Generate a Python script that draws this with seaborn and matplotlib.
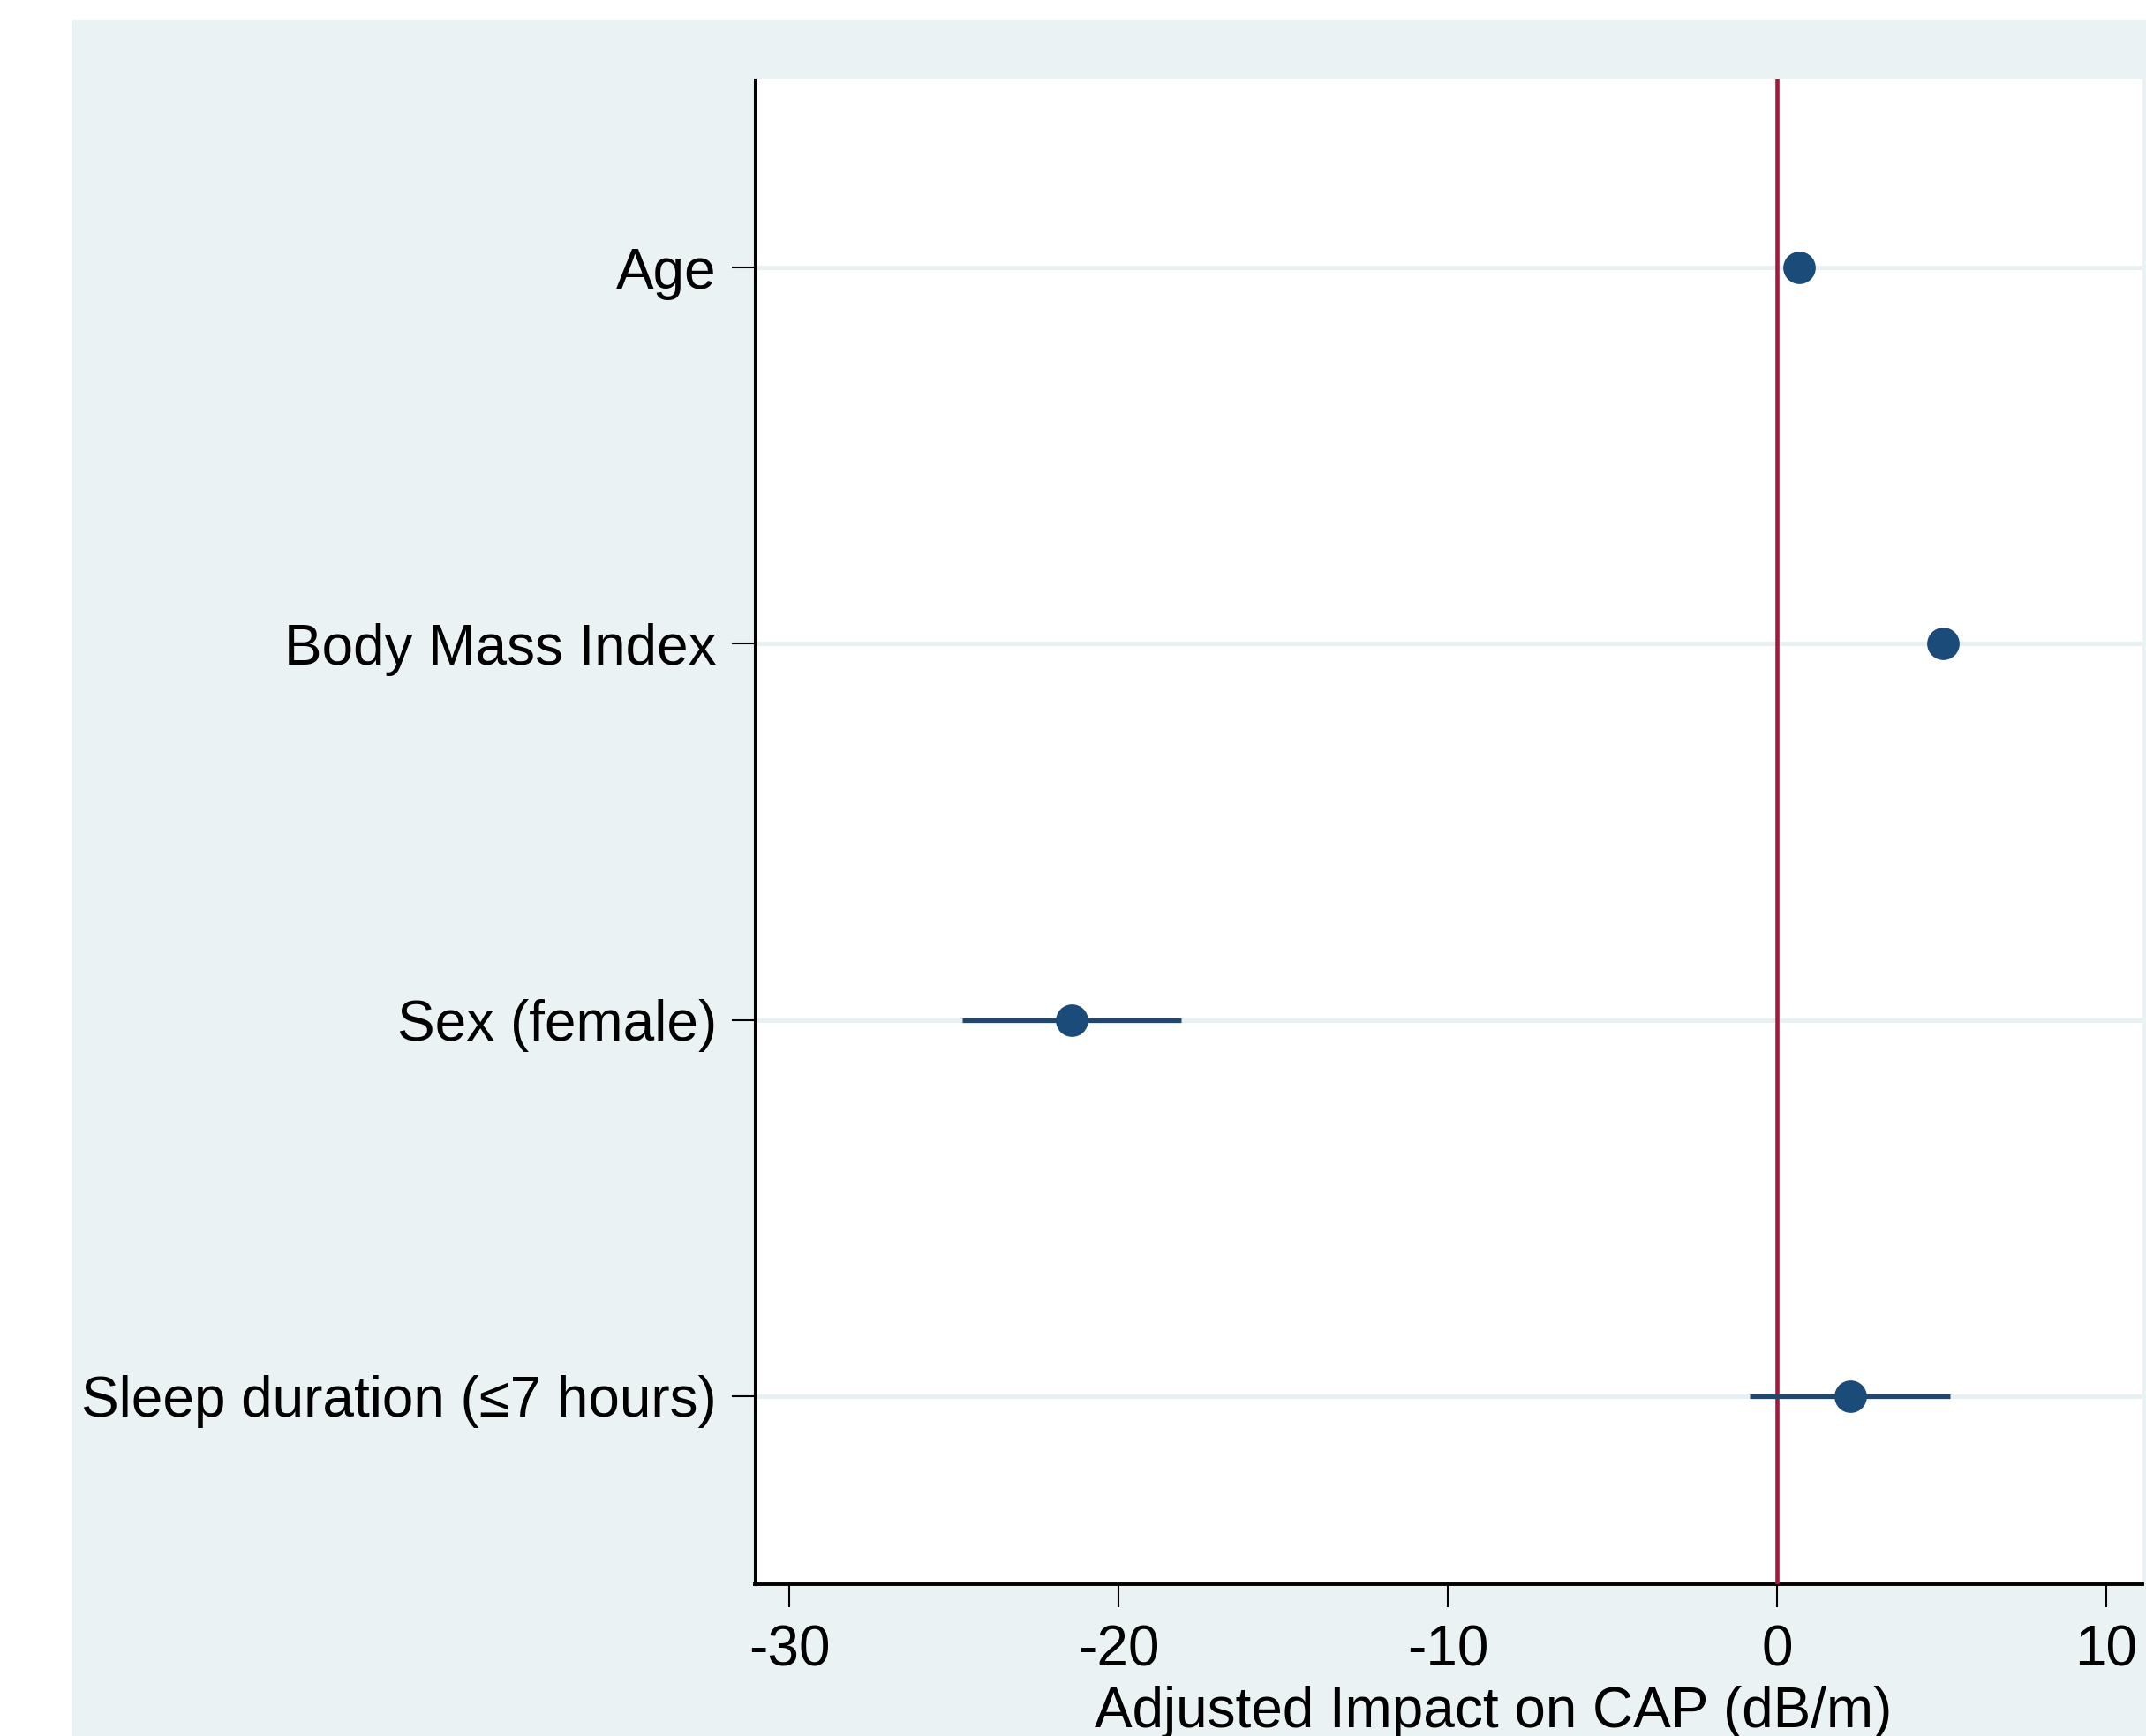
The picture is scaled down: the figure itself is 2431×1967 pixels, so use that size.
import matplotlib
matplotlib.use("Agg")
import matplotlib.pyplot as plt
import seaborn as sns
import pandas as pd
from matplotlib.patches import Rectangle

# ---- data ----
categories = ["Age", "Body Mass Index", "Sex (female)", "Sleep duration (\u22647 hours)"]
estimates = [0.67, 5.04, -21.43, 2.22]
ci_lower = [0.45, 4.75, -24.75, -0.83]
ci_upper = [0.89, 5.33, -18.11, 5.25]
x_ticks = [-30, -20, -10, 0, 10]
x_label = "Adjusted Impact on CAP (dB/m)"

sns.set_style("ticks")
plt.rcParams['font.family'] = ['Liberation Sans', 'DejaVu Sans']

df = pd.DataFrame({"category": categories, "estimate": estimates,
                   "lo": ci_lower, "hi": ci_upper})

W, H = 2431, 1967
fig = plt.figure(figsize=(W / 100, H / 100), dpi=100, facecolor='white')
fig.patches.append(Rectangle((82 / W, 0), 1 - 82 / W, 1 - 23 / H,
                             transform=fig.transFigure, facecolor='#EAF2F3',
                             edgecolor='none', zorder=-10))
ax = fig.add_axes([855 / W, 172 / H, 1572 / W, 1705 / H])
ax.set_zorder(1)
ax.set_facecolor('white')

sns.scatterplot(data=df, x="estimate", y="category", s=700, color='#1B4B78',
                edgecolor='#1B4B78', linewidth=0, zorder=5, ax=ax, legend=False)
ax.hlines(y=df["category"], xmin=df["lo"], xmax=df["hi"], color='#23476B',
          linewidth=3.8, zorder=4)
ax.axvline(0, color='#A8173D', linewidth=3.3, zorder=3)

ax.set_xlim(-31.05, 11.1)
ax.set_ylim(3.5, -0.5)
ax.set_xticks(x_ticks)
ax.set_xticklabels([str(t) for t in x_ticks])

ax.yaxis.grid(True, color='#E9F0F2', linewidth=3.6, zorder=1)
ax.xaxis.grid(False)
ax.set_axisbelow(True)

for s in ["top", "right"]:
    ax.spines[s].set_visible(False)
ax.spines["left"].set_linewidth(2.2)
ax.spines["bottom"].set_linewidth(2.8)
ax.spines["left"].set_color('black')
ax.spines["bottom"].set_color('black')

ax.tick_params(axis='both', length=19, width=1.5, color='black',
               labelsize=46, labelcolor='black')
ax.tick_params(axis='x', pad=14)
ax.tick_params(axis='y', pad=12)

ax.set_ylabel("")
ax.set_xlabel(x_label, fontsize=46, color='black')
ax.xaxis.set_label_coords(0.532, -0.095)
ax.xaxis.label.set_va('baseline')

fig.savefig("out.png", dpi=100, facecolor='white')
